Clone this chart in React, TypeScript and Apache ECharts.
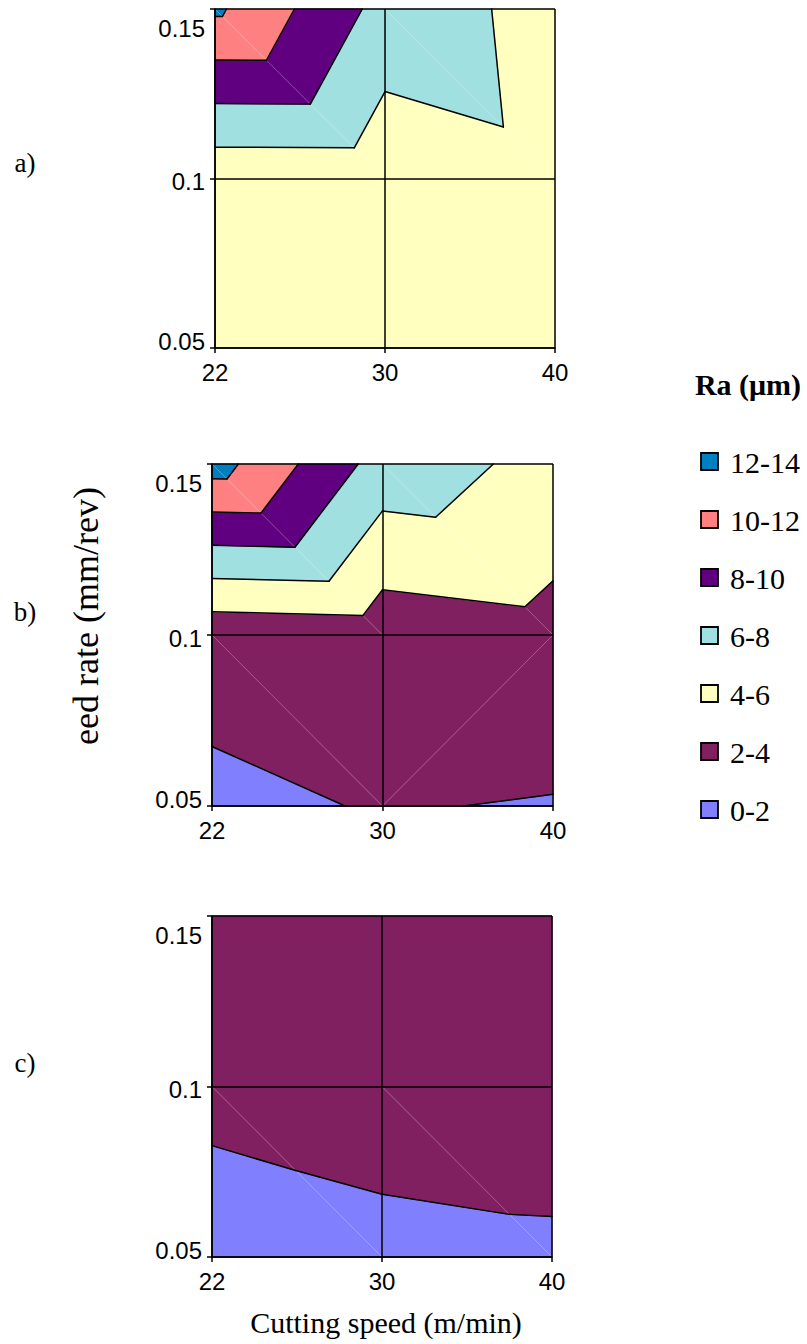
import React, { useEffect, useRef } from 'react';
import * as echarts from 'echarts';

// ---------- data ----------
const xCategories = ['22', '30', '40'];
const yTickLabels = ['0.05', '0.1', '0.15'];
const bandLabels = ['0-2', '2-4', '4-6', '6-8', '8-10', '10-12', '12-14'];
const bandColors = ['#8080FF', '#802060', '#FFFFC0', '#A0E0E0', '#600080', '#FF8080', '#0080C0'];
const contourLevels = [2, 4, 6, 8, 10, 12];
const panelNames = ['a)', 'b)', 'c)'];

// Ra grid values (rows: feed 0.05, 0.1, 0.15; columns: speed 22, 30, 40)
const raA = [
  [4.8, 4.9, 5.1],
  [4.56, 4.6, 5.42],
  [12.34, 7.33, 5.21],
];
const raB = [
  [1.68, 2.09, 1.9],
  [2.6, 2.85, 3.37],
  [12.88, 7.19, 5.36],
];
const raC = [
  [1.36, 1.65, 1.8],
  [2.34, 2.6, 2.64],
  [3.4, 3.1, 3.0],
];
// triangulation diagonal of each cell: 'd' = top-left to bottom-right, 'u' = bottom-left to top-right
const diagA = [['d', 'd'], ['d', 'd']];
const diagB = [['d', 'u'], ['d', 'd']];
const diagC = [['d', 'd'], ['d', 'd']];

const panels = [
  { z: raA, diag: diagA },
  { z: raB, diag: diagB },
  { z: raC, diag: diagC },
];

// ---------- geometry helpers ----------
type P3 = number[];
function clip(poly: P3[], level: number, keepAbove: boolean): P3[] {
  const out: P3[] = [];
  for (let i = 0; i < poly.length; i++) {
    const p = poly[i];
    const q = poly[(i + 1) % poly.length];
    const pin = keepAbove ? p[2] >= level : p[2] <= level;
    const qin = keepAbove ? q[2] >= level : q[2] <= level;
    if (pin) out.push(p);
    if (pin !== qin) {
      const t = (level - p[2]) / (q[2] - p[2]);
      out.push([p[0] + t * (q[0] - p[0]), p[1] + t * (q[1] - p[1]), level]);
    }
  }
  return out;
}

function bandIndex(v: number): number {
  let k = 0;
  while (k < contourLevels.length && v > contourLevels[k]) k++;
  return k;
}

type Shape = { kind: 'poly' | 'seam' | 'line'; pts: number[][]; color?: string };

function buildShapes(z: number[][], diag: string[][]): Shape[] {
  const polys: Shape[] = [];
  const lines: Shape[] = [];
  const seams: Shape[] = [];
  for (let ri = 0; ri < 2; ri++) {
    for (let ci = 0; ci < 2; ci++) {
      const bl = [ci, ri, z[ri][ci]];
      const br = [ci + 1, ri, z[ri][ci + 1]];
      const tl = [ci, ri + 1, z[ri + 1][ci]];
      const tr = [ci + 1, ri + 1, z[ri + 1][ci + 1]];
      const zs = [bl[2], br[2], tl[2], tr[2]];
      const lo = Math.min(...zs);
      const hi = Math.max(...zs);
      const crossed = contourLevels.some((L) => L > lo && L < hi);
      if (!crossed) {
        polys.push({ kind: 'poly', pts: [bl, br, tr, tl], color: bandColors[bandIndex(lo)] });
        continue;
      }
      let tris: P3[][];
      let sd: P3[];
      if (diag[ri][ci] === 'd') {
        tris = [[tl, bl, br], [tl, tr, br]];
        sd = [tl, br];
      } else {
        tris = [[bl, br, tr], [bl, tl, tr]];
        sd = [bl, tr];
      }
      seams.push({ kind: 'seam', pts: sd });
      for (const tri of tris) {
        bandColors.forEach((color, k) => {
          let p: P3[] = tri;
          if (k > 0) p = clip(p, contourLevels[k - 1], true);
          if (k < bandColors.length - 1) p = clip(p, contourLevels[k], false);
          if (p.length >= 3) polys.push({ kind: 'poly', pts: p, color });
        });
        contourLevels.forEach((L) => {
          const pts: number[][] = [];
          for (let i = 0; i < 3; i++) {
            const p = tri[i];
            const q = tri[(i + 1) % 3];
            if ((p[2] - L) * (q[2] - L) < 0) {
              const t = (L - p[2]) / (q[2] - p[2]);
              pts.push([p[0] + t * (q[0] - p[0]), p[1] + t * (q[1] - p[1])]);
            }
          }
          if (pts.length === 2) lines.push({ kind: 'line', pts });
        });
      }
    }
  }
  return [...polys, ...seams, ...lines];
}

// ---------- layout ----------
const gridBoxes = [
  { left: 215, top: 9, width: 340, height: 339 },
  { left: 212, top: 464, width: 341, height: 342 },
  { left: 212, top: 916, width: 340, height: 341 },
];
const panelLabelY = [163, 612, 1063];
const legendLeft = 701;
const legendTop = 462;
const legendStep = 58;
const serif = '"Liberation Serif", "Times New Roman", Times, serif';
const sans = '"Liberation Sans", Arial, Helvetica, sans-serif';

export default function App() {
  const ref = useRef<HTMLDivElement>(null);
  useEffect(() => {
    document.body.style.margin = '0';
    if (!ref.current) return;
    const chart = echarts.init(ref.current, null, { renderer: 'svg' });

    const tickFont = 24;
    const yRich = {
      b: { fontSize: tickFont, fontFamily: sans, color: '#000', padding: [0, 0, 14, 0] },
      m: { fontSize: tickFont, fontFamily: sans, color: '#000', padding: [6, 0, 0, 0] },
      t: { fontSize: tickFont, fontFamily: sans, color: '#000', padding: [38, 0, 0, 0] },
    };
    const yKeys = ['b', 'm', 't'];

    const xAxis: any[] = [];
    const yAxis: any[] = [];
    const series: any[] = [];
    panels.forEach((panel, i) => {
      const lineStyle = { color: '#000', width: 1.5 };
      xAxis.push({
        gridIndex: i,
        type: 'value',
        min: 0,
        max: 2,
        interval: 1,
        z: 10,
        axisLine: { show: true, lineStyle },
        axisTick: { show: true, length: 5, lineStyle },
        splitLine: { show: true, lineStyle },
        axisLabel: {
          formatter: (v: number) => xCategories[v] ?? '',
          fontSize: tickFont,
          fontFamily: sans,
          color: '#000',
          margin: 12,
        },
      });
      yAxis.push({
        gridIndex: i,
        type: 'value',
        min: 0,
        max: 2,
        interval: 1,
        z: 10,
        axisLine: { show: true, lineStyle },
        axisTick: { show: true, length: 5, lineStyle },
        splitLine: { show: true, lineStyle },
        axisLabel: {
          formatter: (v: number) => `{${yKeys[v]}|${yTickLabels[v]}}`,
          rich: yRich,
          fontSize: tickFont,
          fontFamily: sans,
          color: '#000',
          margin: 10,
        },
      });
      const shapes = buildShapes(panel.z, panel.diag);
      series.push({
        type: 'custom',
        name: `Ra ${panelNames[i]}`,
        xAxisIndex: i,
        yAxisIndex: i,
        silent: true,
        data: shapes.map((_, k) => [k]),
        renderItem: (params: any, api: any) => {
          const s = shapes[api.value(0)];
          const pts = s.pts.map((p) => api.coord([p[0], p[1]]));
          if (s.kind === 'poly') {
            return {
              type: 'polygon',
              shape: { points: pts },
              style: { fill: s.color, stroke: s.color, lineWidth: 1 },
            };
          }
          if (s.kind === 'seam') {
            return {
              type: 'polyline',
              shape: { points: pts },
              style: { stroke: 'rgba(255,255,255,0.28)', lineWidth: 1, fill: null },
            };
          }
          return {
            type: 'polyline',
            shape: { points: pts },
            style: { stroke: '#000', lineWidth: 1.5, fill: null, lineCap: 'round', lineJoin: 'round' },
          };
        },
      });
    });

    const textBase = {
      fill: '#000',
      align: 'center',
      verticalAlign: 'middle',
      textAlign: 'center',
      textVerticalAlign: 'middle',
      fontFamily: serif,
    };
    const graphic: any[] = [];
    panelNames.forEach((t, i) => {
      graphic.push({
        type: 'text',
        x: 25,
        y: panelLabelY[i],
        style: { ...textBase, text: t, fontSize: 27 },
      });
    });
    graphic.push({
      type: 'text',
      x: 86,
      y: 616,
      rotation: Math.PI / 2,
      style: { ...textBase, text: 'eed rate (mm/rev)', fontSize: 36 },
    });
    graphic.push({
      type: 'text',
      x: 386,
      y: 1322,
      style: { ...textBase, text: 'Cutting speed (m/min)', fontSize: 30 },
    });
    // legend (top: 12-14 ... bottom: 0-2)
    graphic.push({
      type: 'text',
      x: 748,
      y: 384,
      style: { ...textBase, text: 'Ra (μm)', fontSize: 30, fontWeight: 'bold' },
    });
    bandLabels
      .slice()
      .reverse()
      .forEach((label, j) => {
        const k = bandLabels.length - 1 - j;
        const cy = legendTop + j * legendStep;
        graphic.push({
          type: 'rect',
          shape: { x: legendLeft, y: cy - 9, width: 17, height: 17 },
          style: { fill: bandColors[k], stroke: '#000', lineWidth: 1.8 },
        });
        graphic.push({
          type: 'text',
          x: legendLeft + 29,
          y: cy,
          style: {
            ...textBase,
            align: 'left',
            textAlign: 'left',
            text: label,
            fontSize: 30,
          },
        });
      });

    chart.setOption({
      animation: false,
      backgroundColor: '#fff',
      grid: gridBoxes.map((g) => ({ ...g, containLabel: false })),
      xAxis,
      yAxis,
      series,
      graphic,
    });
    return () => chart.dispose();
  }, []);
  return <div ref={ref} style={{ width: 807, height: 1344 }} />;
}
